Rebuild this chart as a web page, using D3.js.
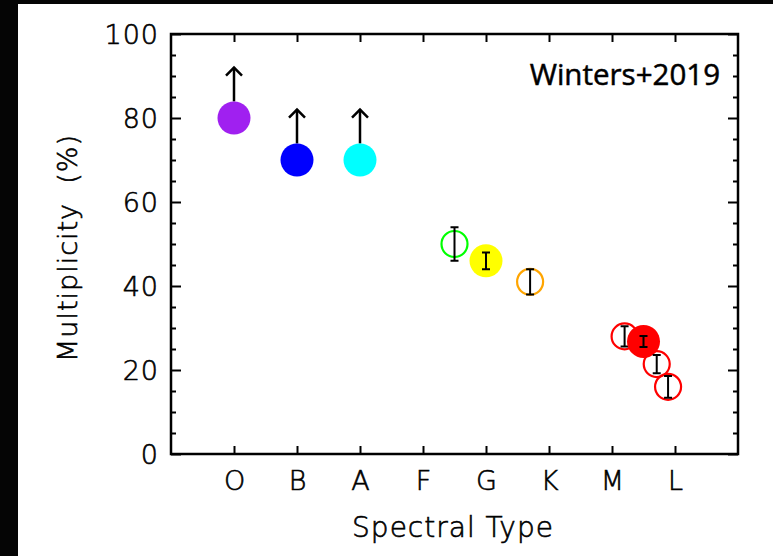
<!DOCTYPE html>
<html>
<head>
<meta charset="utf-8">
<script src="https://cdn.jsdelivr.net/npm/d3@7"></script>
<style>
	html, body { margin: 0; padding: 0; background: #000; }
	svg { display: block; }
	.axisText { font-family: "DejaVu Sans", sans-serif; font-weight: 200; fill: #000; stroke: #000; stroke-width: 0.6px; }
</style>
</head>
<body>
<svg id="chart" width="773" height="556"></svg>
<script>

	// Spectral types along the bottom axis (positions 1..8)
	var spectralTypes = ["O", "B", "A", "F", "G", "K", "M", "L"];
	var typeTicks = [1, 2, 3, 4, 5, 6, 7, 8];

	// Multiplicity axis ticks
	var yMajorTicks = [0, 20, 40, 60, 80, 100];
	var yMinorTicks = [5, 10, 15, 25, 30, 35, 45, 50, 55, 65, 70, 75, 85, 90, 95];

	// Lower limits (filled circles with an up arrow)
	var limitType = [1, 2, 3];
	var limitValue = [80, 70, 70];
	var limitColor = ["#a020f0", "#0000ff", "#00ffff"];

	// Measured values with error bars
	var pointType = [4.5, 5.0, 5.7, 7.2, 7.5, 7.71, 7.89];
	var pointValue = [50, 46, 41, 28, 26.8, 21.4, 16];
	var pointError = [4, 2, 3, 2.4, 1.3, 2.2, 2.6];
	var pointColor = ["#00ff00", "#ffff00", "#ffa500", "#ff0000", "#ff0000", "#ff0000", "#ff0000"];
	var pointFilled = [false, true, false, false, true, false, false];

	var reference = "Winters+2019";

	//////////////////////////////////////////////
	//            Layout                        //
	//////////////////////////////////////////////

	var frame = {left: 171, right: 738, top: 34, bottom: 454};
	var bigR = 16.5, smallR = 13;
	var arrowLen = 12; // in % units

	var svg = d3.select('#chart');

	// black "starfield" backdrop and white page
	svg.append('rect').attr('width', 773).attr('height', 556).attr('fill', '#050505');
	svg.append('rect')
		.attr('x', 18).attr('y', 4)
		.attr('width', 773 - 18).attr('height', 556 - 4)
		.attr('fill', '#fff');

	var x = d3.scaleLinear().domain([0, 9]).range([frame.left, frame.right]);
	var y = d3.scaleLinear().domain([0, 100]).range([frame.bottom, frame.top]);

	//////////////////////////////////////////////
	//            Axes                          //
	//////////////////////////////////////////////

	var tickStyle = function(g) {
		g.select('.domain').remove();
		g.selectAll('.tick line').attr('stroke', '#000').attr('stroke-width', 2);
	};

	// bottom: ticks pointing inward, with labels
	svg.append('g')
		.attr('transform', 'translate(0,' + frame.bottom + ')')
		.call(d3.axisBottom(x).tickValues(typeTicks).tickSizeInner(-8).tickSizeOuter(0)
			.tickFormat(function(d, i) { return spectralTypes[i]; }))
		.call(tickStyle)
		.call(function(g) {
			g.selectAll('.tick text')
				.attr('class', 'axisText')
				.attr('y', 36).attr('dy', null)
				.style('font-size', '27px');
		});

	// top: ticks only
	svg.append('g')
		.attr('transform', 'translate(0,' + frame.top + ')')
		.call(d3.axisTop(x).tickValues(typeTicks).tickSizeInner(-8).tickSizeOuter(0).tickFormat(''))
		.call(tickStyle);

	// left: major with labels, minor
	svg.append('g')
		.attr('transform', 'translate(' + frame.left + ',0)')
		.call(d3.axisLeft(y).tickValues(yMajorTicks).tickSizeInner(-10).tickSizeOuter(0).tickFormat(d3.format('d')))
		.call(tickStyle)
		.call(function(g) {
			g.selectAll('.tick text')
				.attr('class', 'axisText')
				.attr('x', -12).attr('dy', '0.36em')
				.style('font-size', '27px')
				.style('letter-spacing', '1px');
		});
	svg.append('g')
		.attr('transform', 'translate(' + frame.left + ',0)')
		.call(d3.axisLeft(y).tickValues(yMinorTicks).tickSizeInner(-5).tickSizeOuter(0).tickFormat(''))
		.call(tickStyle);

	// right: major and minor, no labels
	svg.append('g')
		.attr('transform', 'translate(' + frame.right + ',0)')
		.call(d3.axisRight(y).tickValues(yMajorTicks).tickSizeInner(-10).tickSizeOuter(0).tickFormat(''))
		.call(tickStyle);
	svg.append('g')
		.attr('transform', 'translate(' + frame.right + ',0)')
		.call(d3.axisRight(y).tickValues(yMinorTicks).tickSizeInner(-5).tickSizeOuter(0).tickFormat(''))
		.call(tickStyle);

	// frame
	svg.append('rect')
		.attr('x', frame.left).attr('y', frame.top)
		.attr('width', frame.right - frame.left).attr('height', frame.bottom - frame.top)
		.attr('fill', 'none').attr('stroke', '#000').attr('stroke-width', 2.5);

	// axis titles
	svg.append('text')
		.attr('class', 'axisText')
		.attr('x', 453).attr('y', 537)
		.attr('text-anchor', 'middle')
		.style('font-size', '28px')
		.style('letter-spacing', '1px')
		.text('Spectral Type');

	svg.append('text')
		.attr('class', 'axisText')
		.attr('transform', 'translate(77,248) rotate(-90)')
		.attr('text-anchor', 'middle')
		.style('font-size', '27px')
		.style('letter-spacing', '1px')
		.style('white-space', 'pre')
		.text('Multiplicity  (%)');

	// reference label
	svg.append('text')
		.attr('x', 720).attr('y', 85)
		.attr('text-anchor', 'end')
		.style('font-family', '"Open Sans", sans-serif')
		.style('font-size', '29.5px')
		.style('fill', '#000')
		.style('stroke', '#000')
		.style('stroke-width', '0.5px')
		.text(reference);

	//////////////////////////////////////////////
	//            Lower limits                  //
	//////////////////////////////////////////////

	limitType.forEach(function(t, i) {
		var cx = x(t), cy = y(limitValue[i]);
		var tip = y(limitValue[i] + arrowLen);

		svg.append('line')
			.attr('x1', cx).attr('x2', cx)
			.attr('y1', cy - bigR).attr('y2', tip)
			.attr('stroke', '#000').attr('stroke-width', 2.5);
		svg.append('path')
			.attr('d', 'M' + (cx - 8) + ',' + (tip + 8) + 'L' + cx + ',' + tip + 'L' + (cx + 8) + ',' + (tip + 8))
			.attr('fill', 'none').attr('stroke', '#000').attr('stroke-width', 2.5);

		svg.append('circle')
			.attr('cx', cx).attr('cy', cy).attr('r', bigR)
			.attr('fill', limitColor[i]);
	});

	//////////////////////////////////////////////
	//            Measured points               //
	//////////////////////////////////////////////

	pointType.forEach(function(t, i) {
		var cx = x(t), cy = y(pointValue[i]);
		var g = svg.append('g');

		if (pointFilled[i]) {
			g.append('circle')
				.attr('cx', cx).attr('cy', cy).attr('r', bigR)
				.attr('fill', pointColor[i]);
		} else {
			g.append('circle')
				.attr('cx', cx).attr('cy', cy).attr('r', smallR)
				.attr('fill', 'none')
				.attr('stroke', pointColor[i]).attr('stroke-width', 2.2);
		}

		var lo = y(pointValue[i] - pointError[i]), hi = y(pointValue[i] + pointError[i]);
		g.append('path')
			.attr('d', 'M' + cx + ',' + lo + 'L' + cx + ',' + hi +
				'M' + (cx - 4) + ',' + lo + 'L' + (cx + 4) + ',' + lo +
				'M' + (cx - 4) + ',' + hi + 'L' + (cx + 4) + ',' + hi)
			.attr('fill', 'none').attr('stroke', '#000').attr('stroke-width', 2);
	});

</script>
</body>
</html>
